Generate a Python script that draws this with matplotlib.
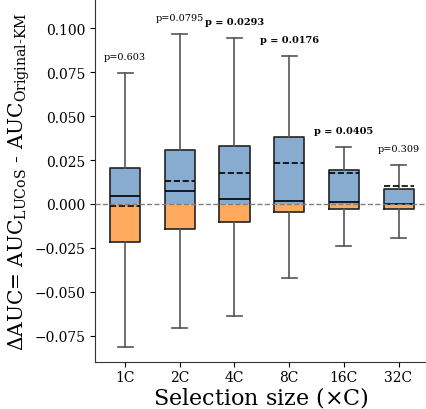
import numpy as np
import matplotlib.pyplot as plt

plt.rcParams['font.family'] = 'DejaVu Serif'
plt.rcParams['mathtext.fontset'] = 'dejavuserif'

# ── Data ─────────────────────────────────────────────────────────────────────
labels  = ["1C", "2C", "4C", "8C", "16C", "32C"]
whis_lo = [-0.081, -0.0706, -0.0635, -0.0419, -0.0239, -0.0191]
q1      = [-0.0218, -0.0144, -0.0104, -0.0047, -0.0030, -0.0030]
medians = [0.0045, 0.0072, 0.0030, 0.0019, 0.0013, 0.0000]
means   = [-0.0010, 0.0129, 0.0174, 0.0231, 0.0178, 0.0104]
q3      = [0.0203, 0.0309, 0.0328, 0.0382, 0.0193, 0.0085]
whis_hi = [0.0743, 0.0968, 0.0945, 0.0839, 0.0326, 0.0223]
pvals   = ["0.603", "0.0795", "0.0293", "0.0176", "0.0405", "0.309"]
signif  = [False, False, True, True, True, False]

blue   = "#88acd0"
orange = "#ffaa5e"
width  = 0.55

fig = plt.figure(figsize=(4.27, 4.10), dpi=100)
ax = fig.add_axes([0.2225, 0.1146, 0.7775, 0.8854])

pos = np.arange(len(labels))

# split fill: blue above zero, orange below zero
for i in pos:
    top_b = q3[i]
    bot_b = max(q1[i], 0)
    if top_b > bot_b:
        ax.bar(i, top_b - bot_b, bottom=bot_b, width=width, color=blue,
               edgecolor="none", zorder=2)
    top_o = min(q3[i], 0)
    bot_o = q1[i]
    if top_o > bot_o:
        ax.bar(i, top_o - bot_o, bottom=bot_o, width=width, color=orange,
               edgecolor="none", zorder=2)

stats = []
for i in pos:
    stats.append(dict(whislo=whis_lo[i], q1=q1[i], med=medians[i], mean=means[i],
                      q3=q3[i], whishi=whis_hi[i], fliers=[]))

ax.bxp(stats, positions=pos, widths=width, showmeans=True, meanline=True,
       patch_artist=False, manage_ticks=False,
       boxprops=dict(color="#222222", linewidth=1.2),
       whiskerprops=dict(color="#555555", linewidth=1.2),
       capprops=dict(color="#555555", linewidth=1.2),
       medianprops=dict(color="black", linewidth=1.2),
       meanprops=dict(color="black", linewidth=1.2, linestyle="--"),
       zorder=3)

ax.axhline(0, color="gray", linestyle="--", linewidth=1, zorder=4)

for i in pos:
    if signif[i]:
        txt = f"p = {pvals[i]}"
        fw = "bold"
    else:
        txt = f"p={pvals[i]}"
        fw = "normal"
    ax.text(i, whis_hi[i] + 0.0068, txt, ha="center", va="bottom",
            fontsize=7, fontweight=fw)

ax.set_xticks(pos)
ax.set_xticklabels(labels)
ax.set_xlim(-0.55, 5.52)
ax.set_ylim(-0.0898, 0.1165)
ax.tick_params(labelsize=10)
ax.tick_params(axis="x", pad=2)

ax.set_xlabel(r"Selection size ($\times$C)", fontsize=16, labelpad=0)
ax.set_ylabel("$\\Delta$AUC= AUC$_{\\mathrm{LUCoS}}$ - AUC$_{\\mathrm{Original\u2010KM}}$",
              fontsize=14.5, labelpad=2)

ax.spines[["top", "right"]].set_visible(False)
for s in ["left", "bottom"]:
    ax.spines[s].set_color("#333333")

fig.savefig("out.png", dpi=100)
